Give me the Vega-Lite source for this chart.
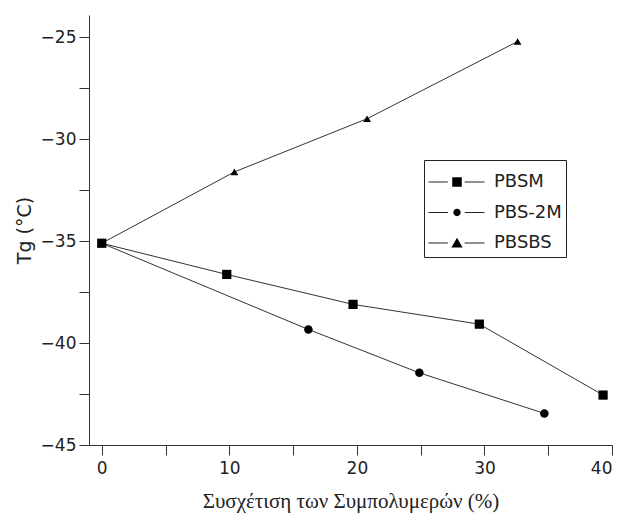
{
  "$schema": "https://vega.github.io/schema/vega-lite/v6.json",
  "width": 523,
  "height": 430,
  "autosize": {"type": "none"},
  "padding": {"left": 89, "top": 15, "right": 12, "bottom": 69},
  "background": "white",
  "config": {
    "view": {"stroke": null},
    "axis": {"grid": false, "domainColor": "#333", "tickColor": "#333", "labelColor": "#222", "titleColor": "#222", "labelFont": "DejaVu Sans", "labelFontSize": 17, "titleFontWeight": "normal"}
  },
  "data": {
    "values": [
      {"series": "PBSM", "x": 0, "y": -35.1},
      {"series": "PBSM", "x": 9.8, "y": -36.63},
      {"series": "PBSM", "x": 19.7, "y": -38.1},
      {"series": "PBSM", "x": 29.6, "y": -39.07},
      {"series": "PBSM", "x": 39.3, "y": -42.55},
      {"series": "PBS-2M", "x": 0, "y": -35.1},
      {"series": "PBS-2M", "x": 16.2, "y": -39.33},
      {"series": "PBS-2M", "x": 24.9, "y": -41.46},
      {"series": "PBS-2M", "x": 34.7, "y": -43.45},
      {"series": "PBSBS", "x": 0, "y": -35.1},
      {"series": "PBSBS", "x": 10.4, "y": -31.6},
      {"series": "PBSBS", "x": 20.8, "y": -28.99},
      {"series": "PBSBS", "x": 32.6, "y": -25.2}
    ]
  },
  "encoding": {
    "x": {
      "field": "x", "type": "quantitative",
      "scale": {"domain": [-1, 40], "nice": false, "zero": false},
      "axis": {
        "title": "Συσχέτιση των Συμπολυμερών (%)",
        "titleFont": "Liberation Serif", "titleFontSize": 21, "titlePadding": 14,
        "values": [0, 5, 10, 15, 20, 25, 30, 35, 40],
        "labelExpr": "datum.value % 10 === 0 ? datum.label : ''",
        "tickSize": 10, "labelPadding": 5,
        "encode": {"ticks": {"update": {"y2": {"signal": "datum.value % 10 === 0 ? 10 : 7"}}}}
      }
    },
    "y": {
      "field": "y", "type": "quantitative",
      "scale": {"domain": [-45, -23.9], "nice": false, "zero": false},
      "axis": {
        "title": "Tg (°C)",
        "titleFont": "DejaVu Sans", "titleFontSize": 19, "titlePadding": 6,
        "values": [-45, -42.5, -40, -37.5, -35, -32.5, -30, -27.5, -25],
        "labelExpr": "datum.value % 5 === 0 ? datum.label : ''",
        "tickSize": 10, "labelPadding": 3,
        "encode": {"ticks": {"update": {"x2": {"signal": "datum.value % 5 === 0 ? -10 : -5"}}}}
      }
    }
  },
  "layer": [
    {
      "mark": {"type": "line", "stroke": "#333", "strokeWidth": 1},
      "encoding": {"detail": {"field": "series"}}
    },
    {
      "transform": [{"filter": "datum.x > 0 || datum.series === 'PBSM'"}],
      "mark": {"type": "point", "filled": true, "color": "black", "opacity": 1},
      "encoding": {
        "shape": {"field": "series", "type": "nominal", "scale": {"domain": ["PBSM", "PBS-2M", "PBSBS"], "range": ["square", "circle", "triangle-up"]}, "legend": null},
        "size": {"field": "series", "type": "ordinal", "scale": {"domain": ["PBSM", "PBS-2M", "PBSBS"], "range": [85, 60, 220]}, "legend": null}
      }
    },
    {
      "mark": {"type": "point", "filled": false, "color": "#222", "strokeWidth": 1, "opacity": 0},
      "encoding": {
        "shape": {
          "field": "series", "type": "nominal",
          "scale": {"domain": ["PBSM", "PBS-2M", "PBSBS"], "range": [
            "M-1,0H-0.31M0.29,0H1",
            "M-1,0H-0.3M0.3,0H1",
            "M-1,0H-0.31M0.29,0H1"
          ]},
          "legend": {
            "title": " ", "titleFontSize": 6, "titlePadding": 2,
            "orient": "none", "legendX": 335, "legendY": 145,
            "strokeColor": "#222", "padding": 4, "fillColor": "white",
            "symbolSize": 3136, "symbolOpacity": 1, "symbolStrokeWidth": 1,
            "clipHeight": 20,
            "labelFont": "DejaVu Sans", "labelFontSize": 18, "labelColor": "#222", "labelOffset": 9,
            "rowPadding": 10.5
          }
        }
      }
    },
    {
      "mark": {"type": "point", "filled": true, "color": "black", "opacity": 0},
      "encoding": {
        "shape": {
          "field": "series", "type": "nominal",
          "scale": {"domain": ["PBSM", "PBS-2M", "PBSBS"], "range": [
            "M-0.17,-0.17H0.17V0.17H-0.17Z",
            "M0.13,0A0.13,0.13,0,1,1,-0.13,0A0.13,0.13,0,1,1,0.13,0Z",
            "M0,-0.19L0.2,0.16H-0.2Z"
          ]},
          "legend": {
            "title": " ", "titleFontSize": 6, "titlePadding": 2,
            "orient": "none", "legendX": 335, "legendY": 145,
            "padding": 4,
            "symbolSize": 3136, "symbolOpacity": 1,
            "clipHeight": 20,
            "labelFont": "DejaVu Sans", "labelFontSize": 18, "labelColor": "#222", "labelOpacity": 0, "labelOffset": 9,
            "rowPadding": 10.5
          }
        }
      }
    }
  ],
  "resolve": {"scale": {"shape": "independent"}, "legend": {"shape": "independent"}}
}
